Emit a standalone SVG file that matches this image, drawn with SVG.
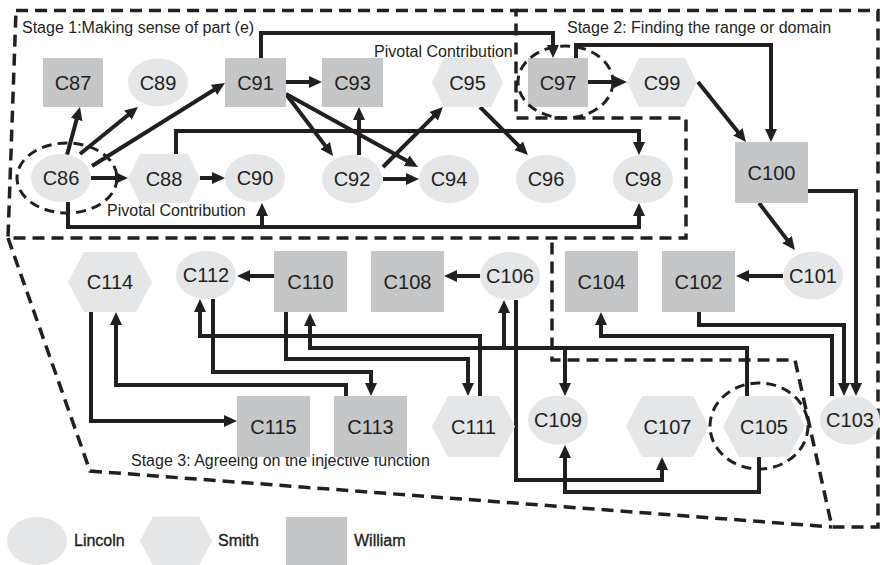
<svg xmlns="http://www.w3.org/2000/svg" width="880" height="565" viewBox="0 0 880 565">
<style>
.lin{fill:#e5e6e7}
.wil{fill:#c5c6c8}
.lbl{font-family:"Liberation Sans",Arial,sans-serif;font-size:20px;fill:#231f20;text-anchor:middle}
.txt{font-family:"Liberation Sans",Arial,sans-serif;font-size:16px;fill:#231f20}
.leg{font-family:"Liberation Sans",Arial,sans-serif;font-size:16px;fill:#231f20;stroke:#231f20;stroke-width:0.35}
.reg{fill:none;stroke:#231f20;stroke-width:3.5;stroke-dasharray:12 7}
.piv{fill:none;stroke:#231f20;stroke-width:3;stroke-dasharray:10 6}
.con{fill:none;stroke:#231f20;stroke-width:4;marker-end:url(#ah)}
</style>
<defs>
<marker id="ah" viewBox="0 0 13 12" refX="5" refY="6" markerWidth="13" markerHeight="12" markerUnits="userSpaceOnUse" orient="auto">
<path d="M0,0 L13,6 L0,12 z" fill="#231f20"/>
</marker>
</defs>
<rect width="880" height="565" fill="#ffffff"/>

<g id="regions">
<path class="reg" d="M16,10.5 H516 V118 H686 V238 H8 Z"/>
<path class="reg" d="M516,10.5 H878 V527 H832 L795,360 H552 V238"/>
<path class="reg" d="M8,238 L90,471 L832,527"/>
<text class="txt" x="22" y="33">Stage 1:Making sense of part (e)</text>
<text class="txt" x="567" y="33">Stage 2: Finding the range or domain</text>
<text class="txt" x="131" y="466">Stage 3: Agreeing on the injective function</text>
<text class="txt" x="107" y="216">Pivotal Contribution</text>
<text class="txt" x="374" y="57">Pivotal Contribution</text>
</g>

<g id="connectors">
<path class="con" d="M67,155 L77.9,114.7"/>
<path class="con" d="M80,154 L131.8,112"/>
<path class="con" d="M92,166 L218.2,87.2"/>
<path class="con" d="M91,178 H120"/>
<path class="con" d="M200,178 H217"/>
<path class="con" d="M68,202 V227 H262 V211"/>
<path class="con" d="M68,227 H639 V211"/>
<path class="con" d="M176,154 V131 H639 V147"/>
<path class="con" d="M261,58 V33 H553 V50"/>
<path class="con" d="M286,82 H314"/>
<path class="con" d="M286,94 L328.2,149.6"/>
<path class="con" d="M286,94 L411,163.1"/>
<path class="con" d="M359,155 V115"/>
<path class="con" d="M383,179 H411"/>
<path class="con" d="M383,167 L437.3,112.7"/>
<path class="con" d="M480,107 L522.3,149.3"/>
<path class="con" d="M588,82 H619"/>
<path class="con" d="M576,58 V45 H771 V134"/>
<path class="con" d="M698,82 L741,135.75"/>
<path class="con" d="M759,203 L790.1,243.6"/>
<path class="con" d="M808,191 H856 V388"/>
<path class="con" d="M783,276 H744"/>
<path class="con" d="M699,312 V325 H844 V388"/>
<path class="con" d="M832,396 V336 H601 V320"/>
<path class="con" d="M480,276 H452"/>
<path class="con" d="M274,276 H245"/>
<path class="con" d="M747,396 V348 H310 V321"/>
<path class="con" d="M504,348 V308"/>
<path class="con" d="M565,348 V388"/>
<path class="con" d="M480,396 V336 H200 V307"/>
<path class="con" d="M286,312 V359 H468 V388"/>
<path class="con" d="M213,299 V372 H371 V388"/>
<path class="con" d="M346,396 V385 H116 V320"/>
<path class="con" d="M91,312 V421 H229"/>
<path class="con" d="M516,300 V480 H662 V465"/>
<path class="con" d="M759,457 V492 H565 V453"/>
</g>

<g id="C87"><rect class="wil" x="43" y="58" width="60" height="49"/><text class="lbl" x="73" y="89.5">C87</text></g>
<g id="C89"><ellipse class="lin" cx="158" cy="82.5" rx="30" ry="24"/><text class="lbl" x="158" y="89.5">C89</text></g>
<g id="C91"><rect class="wil" x="225" y="58" width="61" height="49"/><text class="lbl" x="255.5" y="89.5">C91</text></g>
<g id="C93"><rect class="wil" x="322" y="58" width="61" height="49"/><text class="lbl" x="352.5" y="89.5">C93</text></g>
<g id="C95"><polygon class="lin" points="432,82.5 444,58 491,58 503,82.5 491,107 444,107"/><text class="lbl" x="467.5" y="89.5">C95</text></g>
<g id="C97"><rect class="wil" x="528" y="58" width="60" height="49"/><text class="lbl" x="558" y="89.5">C97</text></g>
<g id="C99"><polygon class="lin" points="627,82.5 639,58 685,58 697,82.5 685,107 639,107"/><text class="lbl" x="662" y="89.5">C99</text></g>
<g id="C86"><ellipse class="lin" cx="61" cy="178" rx="30" ry="24"/><text class="lbl" x="61" y="185">C86</text></g>
<g id="C88"><polygon class="lin" points="128,178.5 140,154 188,154 200,178.5 188,203 140,203"/><text class="lbl" x="164" y="185.5">C88</text></g>
<g id="C90"><ellipse class="lin" cx="255" cy="178" rx="30" ry="24"/><text class="lbl" x="255" y="185">C90</text></g>
<g id="C92"><ellipse class="lin" cx="352" cy="179" rx="30" ry="24"/><text class="lbl" x="352" y="186">C92</text></g>
<g id="C94"><ellipse class="lin" cx="449" cy="179" rx="30" ry="24"/><text class="lbl" x="449" y="186">C94</text></g>
<g id="C96"><ellipse class="lin" cx="546" cy="179" rx="30" ry="24"/><text class="lbl" x="546" y="186">C96</text></g>
<g id="C98"><ellipse class="lin" cx="643" cy="179" rx="30" ry="24"/><text class="lbl" x="643" y="186">C98</text></g>
<g id="C100"><rect class="wil" x="735" y="142" width="73" height="61"/><text class="lbl" x="771.5" y="179.5">C100</text></g>
<g id="C114"><polygon class="lin" points="68,282 84,252 136,252 152,282 136,312 84,312"/><text class="lbl" x="110" y="289">C114</text></g>
<g id="C112"><ellipse class="lin" cx="206" cy="275" rx="30" ry="24"/><text class="lbl" x="206" y="282">C112</text></g>
<g id="C110"><rect class="wil" x="274" y="251" width="73" height="61"/><text class="lbl" x="310.5" y="288.5">C110</text></g>
<g id="C108"><rect class="wil" x="371" y="251" width="73" height="61"/><text class="lbl" x="407.5" y="288.5">C108</text></g>
<g id="C106"><ellipse class="lin" cx="510" cy="276" rx="30" ry="24"/><text class="lbl" x="510" y="283">C106</text></g>
<g id="C104"><rect class="wil" x="565" y="251" width="73" height="61"/><text class="lbl" x="601.5" y="288.5">C104</text></g>
<g id="C102"><rect class="wil" x="662" y="251" width="73" height="61"/><text class="lbl" x="698.5" y="288.5">C102</text></g>
<g id="C101"><ellipse class="lin" cx="813" cy="275.5" rx="30" ry="24"/><text class="lbl" x="813" y="282.5">C101</text></g>
<g id="C115"><rect class="wil" x="237" y="396" width="73" height="61"/><text class="lbl" x="273.5" y="433.5">C115</text></g>
<g id="C113"><rect class="wil" x="334" y="396" width="73" height="61"/><text class="lbl" x="370.5" y="433.5">C113</text></g>
<g id="C111"><polygon class="lin" points="432,426.5 448,396 499,396 515,426.5 499,457 448,457"/><text class="lbl" x="473.5" y="433.5">C111</text></g>
<g id="C109"><ellipse class="lin" cx="558" cy="420" rx="30" ry="24.5"/><text class="lbl" x="558" y="427">C109</text></g>
<g id="C107"><polygon class="lin" points="626,426.5 642,396 693,396 709,426.5 693,457 642,457"/><text class="lbl" x="667.5" y="433.5">C107</text></g>
<g id="C105"><polygon class="lin" points="723,426.5 739,396 789,396 805,426.5 789,457 739,457"/><text class="lbl" x="764" y="433.5">C105</text></g>
<g id="C103"><ellipse class="lin" cx="850" cy="420" rx="30" ry="24.5"/><text class="lbl" x="850" y="427">C103</text></g>

<g id="pivotal">
<ellipse class="piv" cx="67" cy="178" rx="50" ry="35"/>
<ellipse class="piv" cx="565.5" cy="82" rx="47.5" ry="36"/>
<ellipse class="piv" cx="759" cy="426" rx="49" ry="43"/>
</g>

<g id="legend">
<g id="legend-lincoln"><ellipse class="lin" cx="37" cy="541" rx="30" ry="24"/><text class="leg" x="74" y="546">Lincoln</text></g>
<g id="legend-smith"><polygon class="lin" points="140,541 153,516.5 199,516.5 212,541 199,565.5 153,565.5"/><text class="leg" x="218" y="546">Smith</text></g>
<g id="legend-william"><rect class="wil" x="286" y="517" width="61" height="49"/><text class="leg" x="354" y="546">William</text></g>
</g>
</svg>
